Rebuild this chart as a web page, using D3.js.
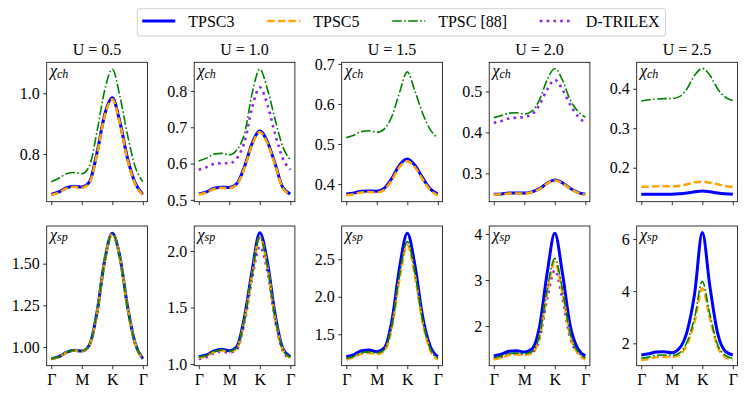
<!DOCTYPE html>
<html>
<head>
<meta charset="utf-8">
<script src="https://cdn.jsdelivr.net/npm/d3@7"></script>
<style>
	body { margin: 0; background: #fff; }
	svg text { font-family: "Liberation Serif", "Times New Roman", serif; fill: #000; }
</style>
</head>
<body>
<svg id="chart" width="748" height="399" font-family="Liberation Serif, serif"></svg>
<script>
// path through the Brillouin zone, points sampled along it
const kPath = [0, 0.25, 0.5, 0.75, 1, 1.25, 1.5, 1.75, 2, 2.25, 2.5, 2.75, 3];
const kTicks = [0, 1, 2, 3];
const kLabels = ["Γ", "M", "K", "Γ"];
const uValues = ["0.5", "1.0", "1.5", "2.0", "2.5"];

// charge susceptibility, one row per U
const chTPSC3 = [
	[0.667, 0.675, 0.689, 0.694, 0.691, 0.708, 0.805, 0.930, 0.985, 0.905, 0.785, 0.705, 0.667],
	[0.5165, 0.522, 0.532, 0.535, 0.534, 0.545, 0.592, 0.656, 0.690, 0.660, 0.600, 0.535, 0.5165],
	[0.375, 0.378, 0.382, 0.383, 0.382, 0.390, 0.415, 0.448, 0.4625, 0.447, 0.416, 0.388, 0.375],
	[0.249, 0.250, 0.252, 0.252, 0.252, 0.255, 0.263, 0.276, 0.2837, 0.277, 0.264, 0.254, 0.249],
	[0.1327, 0.133, 0.133, 0.133, 0.133, 0.134, 0.136, 0.139, 0.141, 0.139, 0.136, 0.134, 0.1327]
];
const chTPSC5 = [
	[0.665, 0.673, 0.687, 0.692, 0.689, 0.705, 0.800, 0.925, 0.980, 0.900, 0.780, 0.702, 0.665],
	[0.515, 0.520, 0.530, 0.533, 0.532, 0.543, 0.589, 0.652, 0.687, 0.656, 0.597, 0.533, 0.515],
	[0.372, 0.375, 0.379, 0.380, 0.379, 0.386, 0.411, 0.443, 0.457, 0.442, 0.412, 0.385, 0.372],
	[0.248, 0.249, 0.251, 0.251, 0.251, 0.254, 0.262, 0.275, 0.283, 0.276, 0.263, 0.253, 0.248],
	[0.152, 0.152, 0.153, 0.153, 0.153, 0.154, 0.158, 0.163, 0.1646, 0.162, 0.158, 0.154, 0.152]
];
const chTPSC88 = [
	[0.709, 0.720, 0.735, 0.739, 0.735, 0.760, 0.875, 1.010, 1.079, 0.990, 0.862, 0.758, 0.709],
	[0.607, 0.615, 0.626, 0.628, 0.624, 0.638, 0.683, 0.794, 0.860, 0.805, 0.722, 0.647, 0.610],
	[0.516, 0.522, 0.531, 0.533, 0.529, 0.538, 0.570, 0.630, 0.680, 0.632, 0.577, 0.536, 0.515],
	[0.436, 0.441, 0.447, 0.448, 0.445, 0.452, 0.480, 0.528, 0.556, 0.528, 0.480, 0.452, 0.437],
	[0.369, 0.372, 0.374, 0.375, 0.375, 0.380, 0.400, 0.434, 0.4516, 0.434, 0.400, 0.379, 0.370]
];
const chDTRILEX = [
	[0.667, 0.675, 0.689, 0.694, 0.691, 0.708, 0.803, 0.928, 0.983, 0.903, 0.783, 0.704, 0.667],
	[0.583, 0.590, 0.599, 0.601, 0.601, 0.615, 0.660, 0.755, 0.810, 0.762, 0.682, 0.615, 0.583],
	null,
	[0.423, 0.428, 0.434, 0.436, 0.438, 0.444, 0.468, 0.505, 0.528, 0.505, 0.468, 0.440, 0.423],
	null
];

// spin susceptibility, one row per U
const spTPSC3 = [
	[0.930, 0.942, 0.968, 0.980, 0.976, 1.012, 1.210, 1.520, 1.682, 1.540, 1.242, 1.022, 0.930],
	[1.065, 1.080, 1.115, 1.130, 1.117, 1.155, 1.420, 1.830, 2.161, 1.900, 1.440, 1.140, 1.065],
	[1.201, 1.230, 1.280, 1.290, 1.268, 1.320, 1.690, 2.400, 2.847, 2.420, 1.740, 1.340, 1.201],
	[1.348, 1.390, 1.450, 1.463, 1.435, 1.500, 1.990, 3.150, 4.015, 3.150, 2.020, 1.510, 1.350],
	[1.552, 1.600, 1.670, 1.680, 1.640, 1.810, 2.450, 3.920, 6.250, 4.170, 2.400, 1.700, 1.552]
];
const spTPSC5 = [
	[0.929, 0.941, 0.967, 0.979, 0.975, 1.010, 1.205, 1.515, 1.678, 1.535, 1.238, 1.020, 0.929],
	[1.055, 1.070, 1.105, 1.120, 1.107, 1.140, 1.390, 1.790, 2.120, 1.860, 1.410, 1.130, 1.055],
	[1.165, 1.190, 1.240, 1.250, 1.235, 1.280, 1.600, 2.250, 2.690, 2.280, 1.660, 1.290, 1.165],
	[1.270, 1.310, 1.370, 1.380, 1.370, 1.410, 1.760, 2.720, 3.390, 2.730, 1.800, 1.410, 1.270],
	[1.360, 1.400, 1.470, 1.480, 1.470, 1.560, 1.950, 2.850, 4.100, 2.950, 1.870, 1.480, 1.360]
];
const spTPSC88 = [
	[0.930, 0.942, 0.968, 0.980, 0.976, 1.012, 1.208, 1.518, 1.680, 1.538, 1.240, 1.021, 0.930],
	[1.060, 1.075, 1.110, 1.125, 1.112, 1.148, 1.400, 1.800, 2.120, 1.870, 1.420, 1.135, 1.060],
	[1.180, 1.205, 1.255, 1.265, 1.250, 1.295, 1.630, 2.300, 2.735, 2.320, 1.690, 1.310, 1.180],
	[1.310, 1.350, 1.400, 1.410, 1.400, 1.440, 1.800, 2.800, 3.470, 2.800, 1.850, 1.450, 1.310],
	[1.425, 1.470, 1.540, 1.550, 1.530, 1.630, 2.050, 3.000, 4.380, 3.100, 1.950, 1.550, 1.425]
];
const spDTRILEX = [
	[0.930, 0.942, 0.968, 0.980, 0.976, 1.012, 1.208, 1.518, 1.680, 1.538, 1.240, 1.021, 0.930],
	[1.044, 1.060, 1.095, 1.110, 1.100, 1.130, 1.370, 1.760, 2.040, 1.820, 1.390, 1.120, 1.044],
	null,
	[1.290, 1.330, 1.390, 1.400, 1.390, 1.420, 1.720, 2.600, 3.210, 2.600, 1.750, 1.420, 1.290],
	null
];

// axis limits and tick labels
const chLimits = [[0.643, 1.102], [0.495, 0.879], [0.356, 0.704], [0.231, 0.571], [0.114, 0.467]];
const spLimits = [[0.888, 1.726], [0.985, 2.221], [1.081, 2.944], [1.137, 4.174], [1.142, 6.498]];
const chTickLabels = [["0.8", "1.0"], ["0.5", "0.6", "0.7", "0.8"], ["0.4", "0.5", "0.6", "0.7"], ["0.3", "0.4", "0.5"], ["0.2", "0.3", "0.4"]];
const spTickLabels = [["1.00", "1.25", "1.50"], ["1.0", "1.5", "2.0"], ["1.5", "2.0", "2.5"], ["2", "3", "4"], ["2", "4", "6"]];

const methods = ["TPSC3", "TPSC5", "TPSC [88]", "D-TRILEX"];
const styles = {
	"TPSC3": {color: "#0000ff", width: 3, dash: null},
	"TPSC5": {color: "#ffa500", width: 2.5, dash: "7.4,3.2"},
	"TPSC [88]": {color: "#008000", width: 1.6, dash: "9.6,2.4,1.6,2.4"},
	"D-TRILEX": {color: "#8a2be2", width: 2.6, dash: "2.6,4.2"}
};
// drawn under the others in the figure
const drawOrder = ["D-TRILEX", "TPSC3", "TPSC5", "TPSC [88]"];
const serif = "Liberation Serif, Times New Roman, serif";

const svg = d3.select("#chart");
const left0 = 46.7, colStep = 147.5, pw = 100.7;
const rows = [
	{top: 62.3, h: 139.4, sub: "ch", data: {"TPSC3": chTPSC3, "TPSC5": chTPSC5, "TPSC [88]": chTPSC88, "D-TRILEX": chDTRILEX}, limits: chLimits, ticks: chTickLabels, xlabels: false},
	{top: 226, h: 139.7, sub: "sp", data: {"TPSC3": spTPSC3, "TPSC5": spTPSC5, "TPSC [88]": spTPSC88, "D-TRILEX": spDTRILEX}, limits: spLimits, ticks: spTickLabels, xlabels: true}
];

rows.forEach(function(row, r) {
	uValues.forEach(function(u, c) {
		let left = left0 + c*colStep;
		let x = d3.scaleLinear().domain([-0.15, 3.15]).range([left, left + pw]);
		let y = d3.scaleLinear().domain(row.limits[c]).range([row.top + row.h, row.top]);
		let clipId = "clip" + r + "_" + c;

		svg.append("clipPath").attr("id", clipId)
			.append("rect")
			.attr("x", left).attr("y", row.top)
			.attr("width", pw).attr("height", row.h);

		let g = svg.append("g");
		let line = d3.line()
			.x((d, i) => x(kPath[i]))
			.y(d => y(d))
			.curve(d3.curveMonotoneX);

		drawOrder.forEach(function(m) {
			let vals = row.data[m][c];
			if (!vals) return;
			let st = styles[m];
			g.append("path")
				.datum(vals)
				.attr("clip-path", "url(#" + clipId + ")")
				.attr("d", line)
				.attr("fill", "none")
				.attr("stroke", st.color)
				.attr("stroke-width", st.width)
				.attr("stroke-dasharray", st.dash)
				.attr("stroke-linejoin", "round");
		});

		// y axis
		let yAxis = d3.axisLeft(y)
			.tickValues(row.ticks[c].map(Number))
			.tickFormat((d, i) => row.ticks[c][i])
			.tickSize(3.5).tickPadding(3.5);
		let ya = svg.append("g").attr("transform", "translate(" + left + ",0)").call(yAxis);
		ya.attr("font-family", serif).attr("font-size", 16);
		ya.select(".domain").remove();
		ya.selectAll("line").attr("stroke-width", 0.8);

		// x axis
		let xAxis = d3.axisBottom(x)
			.tickValues(kTicks)
			.tickFormat((d, i) => row.xlabels ? kLabels[i] : "")
			.tickSize(3.5).tickPadding(4.5);
		let xa = svg.append("g").attr("transform", "translate(0," + (row.top + row.h) + ")").call(xAxis);
		xa.attr("font-family", serif).attr("font-size", 16);
		xa.select(".domain").remove();
		xa.selectAll("line").attr("stroke-width", 0.8);

		// frame
		svg.append("rect")
			.attr("x", left).attr("y", row.top)
			.attr("width", pw).attr("height", row.h)
			.attr("fill", "none").attr("stroke", "#000").attr("stroke-width", 0.8);

		// chi label
		let lab = svg.append("text")
			.attr("x", left + 3.3).attr("y", row.top + 13.5)
			.attr("font-family", serif)
			.attr("font-style", "italic");
		lab.append("tspan").attr("font-size", 16).text("χ");
		lab.append("tspan").attr("font-size", 12).attr("dy", 1.8).text(row.sub);

		if (r == 0) {
			svg.append("text")
				.attr("x", left + pw/2).attr("y", 55)
				.attr("text-anchor", "middle")
				.attr("font-family", serif)
				.attr("font-size", 16)
				.text("U = " + u);
		}
	});
});

// legend
let leg = svg.append("g").attr("font-family", serif);
let legBox = leg.append("rect")
	.attr("y", 8.7).attr("height", 27.3)
	.attr("rx", 2.5).attr("ry", 2.5)
	.attr("fill", "#fff").attr("stroke", "#d0d0d0").attr("stroke-width", 1);
let cursor = 142.3;
methods.forEach(function(m) {
	let st = styles[m];
	leg.append("line")
		.attr("x1", cursor).attr("x2", cursor + 33)
		.attr("y1", 21).attr("y2", 21)
		.attr("stroke", st.color)
		.attr("stroke-width", st.width)
		.attr("stroke-dasharray", st.dash);
	let t = leg.append("text")
		.attr("x", cursor + 46).attr("y", 27.3)
		.attr("font-size", 16)
		.text(m);
	cursor = cursor + 46 + t.node().getComputedTextLength() + 32.7;
});
legBox.attr("x", 137.3).attr("width", cursor - 32.7 + 6 - 137.3);
</script>
</body>
</html>
